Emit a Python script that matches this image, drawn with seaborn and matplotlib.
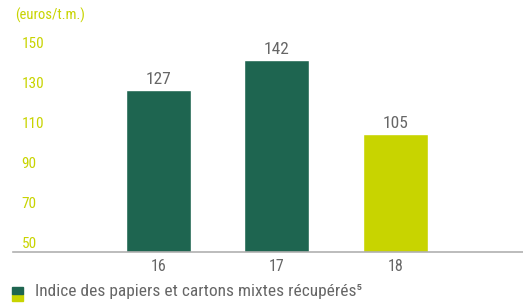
import matplotlib
matplotlib.use('Agg')
import matplotlib.pyplot as plt
import seaborn as sns
import pandas as pd
from matplotlib.patches import Rectangle

years = ['16', '17', '18']
values = [127, 142, 105]
yticks = [50, 70, 90, 110, 130, 150]
unit_label = '(euros/t.m.)'
legend_label = 'Indice des papiers et cartons mixtes récupérés\u2075'

dark_green = '#1e6550'
lime = '#c8d400'
grey = '#666666'

sns.set_theme(style='white')
plt.rcParams['font.family'] = ['DejaVu Sans Condensed', 'Liberation Sans Narrow',
                               'Roboto Condensed', 'DejaVu Sans']
plt.rcParams['font.stretch'] = 'condensed'

df = pd.DataFrame({'year': years, 'value': values})

fig = plt.figure(figsize=(5.23, 3.03), dpi=100)
ax = fig.add_axes([13 / 523, 51 / 303, 510 / 523, 218 / 303])

sns.barplot(data=df, x='year', y='value', hue='year',
            palette=[dark_green, dark_green, lime], width=0.55,
            legend=False, ax=ax, saturation=1)

ax.set_ylim(46, 155)
ax.set_xlim(-1.23, 3.08)
ax.set_xlabel('')
ax.set_ylabel('')
ax.set_yticks([])
sns.despine(ax=ax, left=True, top=True, right=True)
ax.spines['bottom'].set_color('#b0b0b0')
ax.spines['bottom'].set_linewidth(1.2)
ax.tick_params(axis='x', length=0, pad=5, labelsize=11.5, labelcolor=grey)

for t in yticks:
    ax.text(0.017, t, str(t), transform=ax.get_yaxis_transform(),
            ha='left', va='center', fontsize=11, color=lime)
ax.text(0.004, 1.05, unit_label, transform=ax.transAxes,
        ha='left', va='bottom', fontsize=10.5, color=lime)

for i, v in enumerate(values):
    ax.text(i, v + 1.5, str(v), ha='center', va='bottom', fontsize=12.5, color=grey)

# two-colour legend square
fig.patches.append(Rectangle((12 / 523, 2 / 303), 11 / 523, 7 / 303,
                             transform=fig.transFigure, color=lime))
fig.patches.append(Rectangle((12 / 523, 9 / 303), 11 / 523, 7 / 303,
                             transform=fig.transFigure, color=dark_green))
fig.text(35 / 523, 11.5 / 303, legend_label, ha='left', va='center',
         fontsize=12.5, color=grey)

fig.savefig('out.png', dpi=100)
